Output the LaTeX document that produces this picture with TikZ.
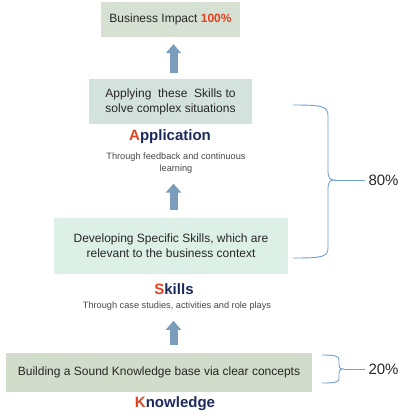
\documentclass[tikz,border=0pt]{standalone}
\usepackage{fontspec}
\setmainfont{Liberation Sans}
\usepackage{xcolor}
\usetikzlibrary{arrows.meta}

\definecolor{impactfill}{HTML}{D6E1D3}
\definecolor{applyfill}{HTML}{D4E2DE}
\definecolor{skillfill}{HTML}{DDF0E8}
\definecolor{knowfill}{HTML}{D2DCCA}
\definecolor{arrowblue}{HTML}{7B9CBA}
\definecolor{bracecol}{HTML}{6F9FCF}
\definecolor{accent}{HTML}{E2401C}
\definecolor{navy}{HTML}{1C2A5C}
\definecolor{boxtext}{HTML}{262626}

\begin{document}
\begin{tikzpicture}[x=1pt,y=-1pt]
\tikzset{box/.style={font=\fontsize{12}{15}\selectfont,text=boxtext,align=center,inner sep=0pt}}
\tikzset{stage/.style={font=\fontsize{15}{18}\selectfont\bfseries,text=navy}}
\tikzset{how/.style={font=\fontsize{9.2}{11.5}\selectfont,text=boxtext!85,align=center}}
\tikzset{fatarrow/.style={draw=arrowblue,line width=8pt,-{Triangle[width=15pt,length=9pt]}}}
\tikzset{brace/.style={draw=bracecol,line width=0.9pt}}

\useasboundingbox (0,0) rectangle (400,416);

% boxes
\node[box,fill=impactfill,minimum width=139pt,minimum height=35pt] (impact) at (170.5,19.5) {Business Impact \textcolor{accent}{\bfseries 100\%}};
\node[box,fill=applyfill,minimum width=163pt,minimum height=45pt] (apply) at (170.5,101.5) {Applying~ these~ Skills to\\solve complex situations};
\node[box,fill=skillfill,minimum width=234pt,minimum height=56pt] (develop) at (171,246) {Developing Specific Skills, which are\\relevant to the business context};
\node[box,fill=knowfill,minimum width=306pt,minimum height=39pt] (build) at (159,372.5) {Building a Sound Knowledge base via clear concepts};

% stage names
\node[stage] (application) at (170,137) {\textcolor{accent}{A}pplication};
\node[how] (feedback) at (176,163) {Through feedback and continuous\\learning};
\node[stage] (skills) at (174,289) {\textcolor{accent}{S}kills};
\node[how] (cases) at (177,306) {Through case studies, activities and role plays};
\node[stage] (knowledge) at (175,404) {\textcolor{accent}{K}nowledge};

% arrows
\draw[fatarrow,shorten <=6pt,shorten >=7pt] ([xshift=3pt]apply.north) -- ([xshift=3pt]impact.south);
\draw[fatarrow,shorten <=8pt,shorten >=7pt] ([xshift=2.5pt]develop.north) -- ([xshift=-2.5pt]feedback.south);
\draw[fatarrow,shorten <=8pt,shorten >=7pt] ([xshift=14.5pt]build.north) -- ([xshift=-3.5pt]cases.south);

% percentages
\node[font=\fontsize{15}{18}\selectfont,text=boxtext,anchor=west] (eighty) at (365,180) {80\%};
\node[font=\fontsize{15}{18}\selectfont,text=boxtext,anchor=west] (twenty) at (365,369) {20\%};

% braces
\coordinate (tipA) at (334,180);
\draw[brace] (293,105) .. controls (322,105) and (328,106) .. (328,116) -- (328,171)
  .. controls (328,178) and (330,180) .. (tipA)
  .. controls (330,180) and (328,182) .. (328,189) -- (328,248)
  .. controls (328,257) and (322,258) .. (293,258);
\draw[brace] (tipA) -- (eighty.west);
\coordinate (tipB) at (344,369);
\draw[brace] (322,355) .. controls (335,355) and (339,356) .. (339,360) -- (339,365)
  .. controls (339,368) and (340,369) .. (tipB)
  .. controls (340,369) and (339,370) .. (339,373) -- (339,379)
  .. controls (339,382) and (335,383) .. (322,383);
\draw[brace] (tipB) -- (twenty.west);

\end{tikzpicture}
\end{document}
